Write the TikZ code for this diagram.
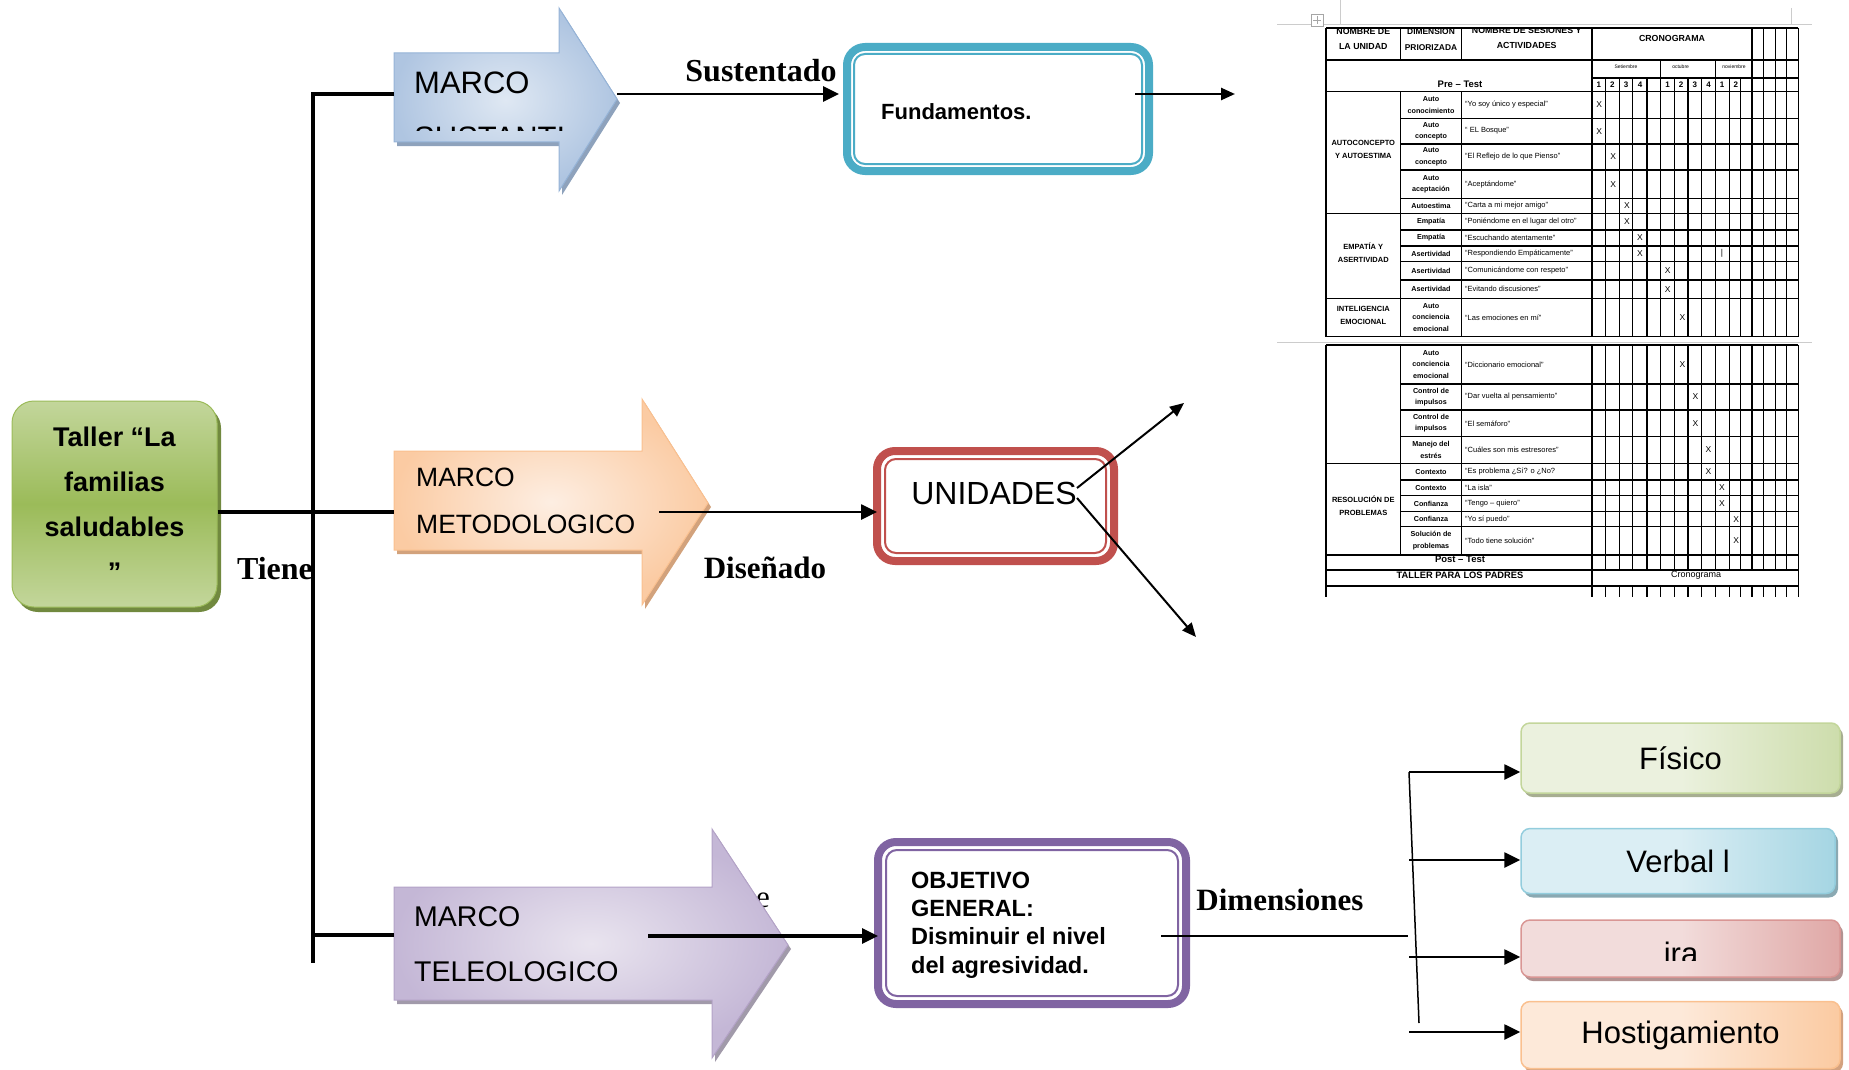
\documentclass[tikz,border=0pt]{standalone}
\usepackage{fontspec}
\setmainfont{Liberation Serif}
\setsansfont{Liberation Sans}
\usepackage{tikz}
\usetikzlibrary{arrows.meta,calc,shadows}
\definecolor{tealC}{HTML}{4BACC6}
\definecolor{redC}{HTML}{C0504D}
\definecolor{purpC}{HTML}{8064A2}
\definecolor{grnL}{HTML}{C3D69B}
\definecolor{grnD}{HTML}{9BBB59}
\definecolor{grnS}{HTML}{71893F}
\definecolor{bluE}{HTML}{95B3D7}
\definecolor{bluL}{HTML}{DFE8F3}
\definecolor{bluD}{HTML}{AFC5E1}
\definecolor{bluS}{HTML}{8EA2BC}
\definecolor{orgE}{HTML}{FAC08F}
\definecolor{orgL}{HTML}{FDEEE2}
\definecolor{orgD}{HTML}{FBCBA3}
\definecolor{orgS}{HTML}{D2A27C}
\definecolor{purE}{HTML}{B3A2C7}
\definecolor{purL}{HTML}{E9E4EF}
\definecolor{purD}{HTML}{C4B7D6}
\definecolor{purS}{HTML}{A19AAA}
\definecolor{fisL}{HTML}{EBF1DE}
\definecolor{fisS}{HTML}{A7AE91}
\definecolor{verE}{HTML}{93CDDD}
\definecolor{verL}{HTML}{DBEEF4}
\definecolor{verS}{HTML}{8AA9B2}
\definecolor{iraE}{HTML}{D99694}
\definecolor{iraL}{HTML}{F2DCDB}
\definecolor{iraS}{HTML}{B29392}
\definecolor{hosL}{HTML}{FDE9D9}
\definecolor{hosS}{HTML}{D3A27F}
\tikzset{>={Triangle[length=16pt,width=15pt]},
  trunk/.style={line width=3.5pt},
  conn/.style={line width=2.6pt,->},
  thinconn/.style={line width=2pt,-{Triangle[length=14pt,width=12pt]}},
  lbl/.style={font=\bfseries\fontsize{32}{36}\selectfont, inner sep=0pt},
  marco/.style={font=\sffamily\fontsize{#1}{#1}\selectfont, anchor=west, inner sep=0pt},
  blockarrow/.style n args={4}{draw=#1, line width=1pt, inner color=#2, outer color=#3,
    drop shadow={fill=#4, opacity=1, shadow xshift=3pt, shadow yshift=-4pt}},
  tallerbox/.style={draw=grnD, line width=1pt, rounded corners=22pt, top color=grnL, bottom color=grnL,
    middle color=grnD, minimum width=205pt, minimum height=206pt, align=center,
    drop shadow={fill=grnS, opacity=1, shadow xshift=4pt, shadow yshift=-5pt},
    font=\sffamily\bfseries\fontsize{27}{45}\selectfont},
  dblbox/.style={draw=#1, line width=8pt, rounded corners=18pt, fill=white, outer sep=0pt},
  innerline/.style={draw=#1, line width=2pt, rounded corners=11pt},
  dimbox/.style n args={3}{draw=#1, line width=1.5pt, rounded corners=9pt, left color=#2, right color=#1!75!#2,
    middle color=#2, drop shadow={fill=#3, opacity=1, shadow xshift=3pt, shadow yshift=-4pt},
    minimum width=319pt, font=\sffamily\fontsize{31}{36}\selectfont},
  tab/.style={line width=1.1pt},
  guide/.style={draw=gray!40, line width=0.8pt},
  hdr/.style={font=\sffamily\bfseries\fontsize{8.8}{15}\selectfont, align=center, inner sep=0pt},
  grp/.style={font=\sffamily\bfseries\fontsize{7.5}{13}\selectfont, align=center, inner sep=0pt},
  dimtxt/.style={font=\sffamily\bfseries\fontsize{7.2}{11.5}\selectfont, align=center, inner sep=0pt},
  acttxt/.style={font=\sffamily\fontsize{7.5}{9}\selectfont, anchor=west, inner sep=0pt},
  xtxt/.style={font=\sffamily\fontsize{8.5}{9}\selectfont, inner sep=0pt},
  mon/.style={font=\sffamily\fontsize{5}{6}\selectfont, inner sep=0pt},
  num/.style={font=\sffamily\bfseries\fontsize{8}{9}\selectfont, inner sep=0pt}
}
\begin{document}
\begin{tikzpicture}[x=1pt,y=-1pt]
  \useasboundingbox (0,0) rectangle (1849,1070);

  \node[font=\fontsize{31}{36}\selectfont, inner sep=0pt] (lblE) at (763,900) {e};

  \path[blockarrow={bluE}{bluL}{bluD}{bluS}] (394,53) -- (559,53) -- (559,8) -- (617,99) -- (559,191) -- (559,142) -- (394,142) -- cycle;
  \path[blockarrow={orgE}{orgL}{orgD}{orgS}] (394,451) -- (642,451) -- (642,399) -- (708,503) -- (642,605) -- (642,550) -- (394,550) -- cycle;
  \path[blockarrow={purE}{purL}{purD}{purS}] (394,887) -- (712,887) -- (712,829) -- (788,945) -- (712,1058) -- (712,1000) -- (394,1000) -- cycle;

  \node[marco=31] (susA) at (414,83) {MARCO};
  \begin{scope}
    \clip (400,60) rectangle (562,131);
    \node[marco=31] (susB) at (414,138) {SUSTANTIVO};
  \end{scope}
  \node[marco=26.5] (metA) at (416,477) {MARCO};
  \node[marco=26.5] (metB) at (416,524) {METODOLOGICO};
  \node[marco=28.5] (telA) at (414,917) {MARCO};
  \node[marco=28.5] (telB) at (414,972) {TELEOLOGICO};

  \node[tallerbox] (taller) at (114.5,504) {Taller “La\\familias\\saludables\\”};

  \node[dblbox=tealC, minimum width=302pt, minimum height=124pt] (fund) at (998,109) {};
  \draw[innerline=tealC] ($(fund.north west)+(7,7)$) rectangle ($(fund.south east)+(-7,-7)$);
  \node[font=\sffamily\bfseries\fontsize{22}{26}\selectfont, anchor=west, inner sep=0pt] (fundTxt) at (881,112) {Fundamentos.};

  \node[dblbox=redC, minimum width=237pt, minimum height=110pt] (unid) at (995.5,506) {};
  \draw[innerline=redC] ($(unid.north west)+(8,8)$) rectangle ($(unid.south east)+(-8,-8)$);
  \node[font=\sffamily\fontsize{32}{36}\selectfont, inner sep=0pt] (unidTxt) at (994,493) {UNIDADES};

  \node[dblbox=purpC, minimum width=308pt, minimum height=162pt] (obj) at (1032,923) {};
  \draw[innerline=purpC] ($(obj.north west)+(8,8)$) rectangle ($(obj.south east)+(-8,-8)$);
  \node[font=\sffamily\bfseries\fontsize{23.5}{28.3}\selectfont, anchor=west, align=left, inner sep=0pt] (objTxt) at (911,925) {OBJETIVO\\GENERAL:\\Disminuir el nivel\\del agresividad.};

  \node[dimbox={grnL}{fisL}{fisS}, minimum height=70pt] (fisico) at (1680.5,758) {Físico};
  \node[dimbox={verE}{verL}{verS}, minimum width=314pt, minimum height=65pt] (verbal) at (1678,861) {Verbal l};
  \node[dimbox={iraE}{iraL}{iraS}, minimum height=57pt] (ira) at (1680.5,948.5) {};
  \begin{scope}
    \clip (1521,900) rectangle (1843,960);
    \node[font=\sffamily\fontsize{31}{36}\selectfont, anchor=base, inner sep=0pt] (iraTxt) at (1681,964) {ira};
  \end{scope}
  \node[dimbox={orgE}{hosL}{hosS}, minimum height=67pt] (hostig) at (1680.5,1035) {Hostigamiento};

  \node[lbl] (lblSus) at (761,71) {Sustentado};
  \node[lbl] (lblTiene) at (275,569) {Tiene};
  \node[lbl, font=\bfseries\fontsize{31}{36}\selectfont] (lblDis) at (765,568) {Diseñado};
  \node[lbl, font=\bfseries\fontsize{31}{36}\selectfont] (lblDim) at (1280,900) {Dimensiones};

  \coordinate (hubTop) at (313,94);
  \coordinate (hubBot) at (313,963);
  \coordinate (susTail) at (394,94);
  \coordinate (metTail) at (394,512);
  \coordinate (telTail) at (394,935);
  \draw[trunk] (susTail) -- (hubTop) -- (hubBot);
  \draw[trunk] (taller.east |- metTail) -- (metTail);
  \draw[trunk] (hubTop |- telTail) -- (telTail);

  \coordinate (susTip) at (617,94);
  \draw[conn, shorten >=8pt] (susTip) -- (susTip -| fund.west);
  \coordinate (fundOut) at (1135,94);
  \coordinate (fundEnd) at (1235,94);
  \draw[thinconn, line width=2.5pt] (fundOut) -- (fundEnd);

  \coordinate (metOut) at (659,512);
  \draw[conn] (metOut) -- (metOut -| unid.west);
  \coordinate (unidOutA) at (1077,488);
  \coordinate (unidEndA) at (1184,403);
  \coordinate (unidOutB) at (1077,498);
  \coordinate (unidEndB) at (1196,637);
  \draw[thinconn] (unidOutA) -- (unidEndA);
  \draw[thinconn] (unidOutB) -- (unidEndB);

  \coordinate (telOut) at (648,936);
  \draw[conn, line width=3.2pt] (telOut) -- (telOut -| obj.west);
  \coordinate (objOut) at (1161,936);
  \coordinate (dimEnd) at (1408,936);
  \draw[line width=1.5pt] (objOut) -- (dimEnd);
  \coordinate (dimTop) at (1409,772);
  \coordinate (dimBot) at (1419,1023);
  \draw[line width=1.5pt] (dimTop) -- (dimBot);
  \foreach \b/\y in {fisico/772,verbal/860,ira/957,hostig/1032}{
    \coordinate (in\b) at (1409,\y);
    \draw[conn] (in\b) -- (in\b -| \b.west);
  }

  \draw[guide] (1277,24) -- (1812,24) (1340,0) -- (1340,24) (1791,8) -- (1791,24);
  \draw[guide] (1277,342) -- (1812,342);
  \draw[gray!70, line width=0.6pt, fill=white] (1311,14) rectangle (1323,26);
  \draw[gray!70, line width=0.6pt] (1313,20) -- (1321,20) (1317,16) -- (1317,24);

  \begin{scope}
    \clip (1300,27.4) rectangle (1849,600);
    \foreach \y in {28,60,91.7,213.3,298.3,336.7} \draw[tab] (1326,\y) -- (1798.3,\y);
    \draw[tab] (1592,78) -- (1798.3,78);
    \foreach \y in {118.3,144,170,198.3,230,246,261.7,280} \draw[tab] (1400.6,\y) -- (1798.3,\y);
    \foreach \x in {1326,1592,1752,1763.5,1775.4,1786.8,1798.3} \draw[tab] (\x,28) -- (\x,336.7);
    \foreach \x in {1400.6,1461.3} \draw[tab] (\x,28) -- (\x,60) (\x,91.7) -- (\x,336.7);
    \foreach \x in {1660.7,1715.4} \draw[tab] (\x,60) -- (\x,336.7);
    \foreach \x in {1605.6,1619.2,1632.9,1647,1674.4,1688,1701.7,1729.1,1740.6} \draw[tab] (\x,78) -- (\x,336.7);

    \foreach \y in {345,463.3,555,570,586} \draw[tab] (1326,\y) -- (1798.3,\y);
    \foreach \y in {384,410,436.7,480,495.7,511.7,526.7} \draw[tab] (1400.6,\y) -- (1798.3,\y);
    \foreach \x in {1326,1592,1798.3} \draw[tab] (\x,345) -- (\x,597);
    \foreach \x in {1400.6,1461.3} \draw[tab] (\x,345) -- (\x,555);
    \foreach \x in {1605.6,1619.2,1632.9,1647,1660.7,1674.4,1688,1701.7,1715.4,1729.1,1740.6,1752,1763.5,1775.4,1786.8}
      \draw[tab] (\x,345) -- (\x,570) (\x,586) -- (\x,597);

    \node[hdr] (hdrA) at (1363.3,39) {NOMBRE DE\\LA UNIDAD};
    \node[hdr, font=\sffamily\bfseries\fontsize{8.4}{16}\selectfont] (hdrB) at (1431,40) {DIMENSION\\PRIORIZADA};
    \node[hdr] (hdrC) at (1526.7,38) {NOMBRE DE SESIONES Y\\ACTIVIDADES};
    \node[hdr] (hdrD) at (1672,38.3) {CRONOGRAMA};
    \node[hdr, font=\sffamily\bfseries\fontsize{9.5}{12}\selectfont] (preTest) at (1460,84.5) {Pre – Test};
    \node[mon] (monA) at (1626,67) {Setiembre};
    \node[mon] (monB) at (1680.6,67) {octubre};
    \node[mon] (monC) at (1734,67) {noviembre};
    \foreach \x/\n [count=\i] in {1598.8/1,1612.4/2,1626/3,1640/4,1667.5/1,1681.2/2,1694.8/3,1708.5/4,1722.2/1,1735.8/2}
      \node[num] (wk\i) at (\x,85) {\n};

    \foreach \ya/\yb/\dm/\ac/\xx [count=\i] in {
      91.7/118.3/{Auto\\conocimiento}/{“Yo soy único y especial”}/1599.3,
      118.3/144/{Auto\\concepto}/{“ EL Bosque”}/1599.3,
      144/170/{Auto\\concepto}/{“El Reflejo de lo que Pienso”}/1613.3,
      170/198.3/{Auto\\aceptación}/{“Aceptándome”}/1613.3,
      198.3/213.3/{Autoestima}/{“Carta a mi mejor amigo”}/1627,
      213.3/230/{Empatía}/{“Poniéndome en el lugar del otro”}/1627,
      230/246/{Empatía}/{“Escuchando atentamente”}/1640,
      246/261.7/{Asertividad}/{“Respondiendo Empáticamente”}/1640,
      261.7/280/{Asertividad}/{“Comunicándome con respeto”}/1667.7,
      280/298.3/{Asertividad}/{“Evitando discusiones”}/1667.7,
      298.3/336.7/{Auto\\conciencia\\emocional}/{“Las emociones en mí”}/1682.5,
      345/384/{Auto\\conciencia\\emocional}/{“Diccionario emocional”}/1682.5,
      384/410/{Control de\\impulsos}/{“Dar vuelta al pensamiento”}/1695.5,
      410/436.7/{Control de\\impulsos}/{“El semáforo”}/1695.5,
      436.7/463.3/{Manejo del\\estrés}/{“Cuáles son mis estresores”}/1708.4,
      463.3/480/{Contexto}/{“Es problema ¿Sí? o ¿No?}/1708.4,
      480/495.7/{Contexto}/{“La isla”}/1722,
      495.7/511.7/{Confianza}/{“Tengo – quiero”}/1722,
      511.7/526.7/{Confianza}/{“Yo sí puedo”}/1736.2,
      526.7/555/{Solución de\\problemas}/{“Todo tiene solución”}/1736.2}{
      \node[dimtxt] (dim\i) at (1431,{(\ya+\yb)/2}) {\dm};
      \node[acttxt] (act\i) at (1465,{(\ya+\yb)/2}) {\ac};
      \node[xtxt] (mark\i) at (\xx,{(\ya+\yb)/2}) {X};
    }
    \node[xtxt] (markBar) at (1722,253.8) {|};

    \node[grp] (grpA) at (1363.3,149) {AUTOCONCEPTO\\Y AUTOESTIMA};
    \node[grp] (grpB) at (1363.3,252.7) {EMPATÍA Y\\ASERTIVIDAD};
    \node[grp] (grpC) at (1363.3,315) {INTELIGENCIA\\EMOCIONAL};
    \node[grp] (grpD) at (1363.3,506) {RESOLUCIÓN DE\\PROBLEMAS};

    \node[hdr, font=\sffamily\bfseries\fontsize{9.5}{12}\selectfont] (postTest) at (1460,559) {Post – Test};
    \node[hdr, font=\sffamily\bfseries\fontsize{9.3}{12}\selectfont] (padres) at (1460,575) {TALLER PARA LOS PADRES};
    \node[font=\sffamily\fontsize{9}{11}\selectfont, inner sep=0pt] (cronoB) at (1696,575) {Cronograma};
  \end{scope}
\end{tikzpicture}
\end{document}
